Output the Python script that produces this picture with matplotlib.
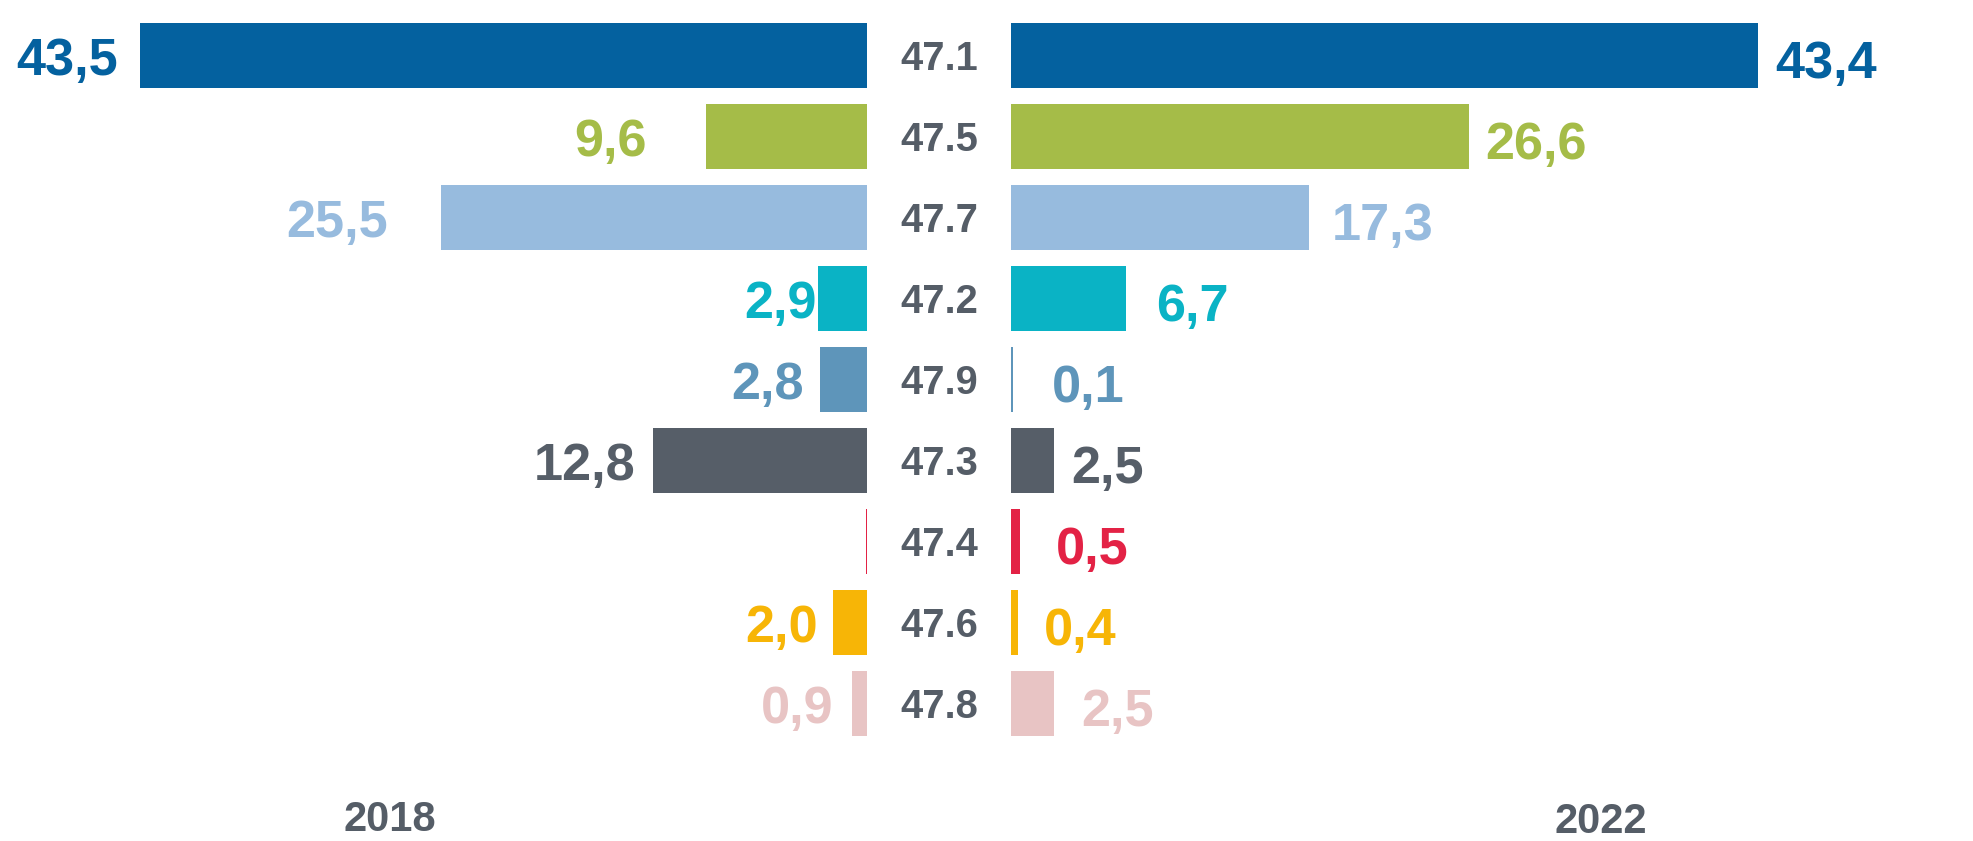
"""
Two-sided bar chart: shares by code, 2018 (left) vs 2022 (right).
"""

import matplotlib
matplotlib.use("Agg")
import matplotlib.pyplot as plt
from matplotlib.transforms import blended_transform_factory

plt.rcParams['font.family'] = ['Liberation Sans', 'DejaVu Sans']

# data
codes = ['47.1', '47.5', '47.7', '47.2', '47.9', '47.3', '47.4', '47.6', '47.8']
values_2018 = [43.5, 9.6, 25.5, 2.9, 2.8, 12.8, 0.05, 2.0, 0.9]
values_2022 = [43.4, 26.6, 17.3, 6.7, 0.1, 2.5, 0.5, 0.4, 2.5]
labels_2018 = ['43,5', '9,6', '25,5', '2,9', '2,8', '12,8', '', '2,0', '0,9']
labels_2022 = ['43,4', '26,6', '17,3', '6,7', '0,1', '2,5', '0,5', '0,4', '2,5']
years = ['2018', '2022']

# styling
colors = ['#04619F', '#A5BC48', '#97BBDE', '#0AB3C5', '#5E95BA',
          '#565E68', '#E32245', '#F7B506', '#E8C4C4']
gray = '#555D67'
# gap between bar end and its label, in pixels (as in the original layout)
pad_2018 = [22, 60, 53, 2, 16, 17, 0, 16, 18]
pad_2022 = [17, 16, 23, 30, 39, 17, 36, 26, 27]

W, H = 1974, 841
fig = plt.figure(figsize=(W / 100, H / 100), dpi=100)

axL = fig.add_axes([0, 0, 866.8 / W, 1])
axR = fig.add_axes([1011 / W, 0, 963 / W, 1])

ypos = list(range(len(codes)))

axL.barh(ypos, values_2018, height=0.8, color=colors)
axR.barh(ypos, values_2022, height=0.8, color=colors)

axL.set_xlim(866.8 / 16.71, 0)
axR.set_xlim(0, 963 / 17.21)
for ax in (axL, axR):
    ax.set_ylim((H - 55.3) / 81, -55.3 / 81)
    ax.axis('off')

# value labels
for y, v, lab, pad, c in zip(ypos, values_2018, labels_2018, pad_2018, colors):
    if lab:
        axL.annotate(lab, (v, y), xytext=(-pad, -1), textcoords='offset pixels',
                     ha='right', va='center_baseline', fontsize=37.6,
                     fontweight='bold', color=c)

for y, v, lab, pad, c in zip(ypos, values_2022, labels_2022, pad_2022, colors):
    axR.annotate(lab, (v, y), xytext=(pad, -4), textcoords='offset pixels',
                 ha='left', va='center_baseline', fontsize=37.6,
                 fontweight='bold', color=c)

# category codes between the two halves
trans = blended_transform_factory(fig.transFigure, axR.transData)
for y, code in zip(ypos, codes):
    fig.text(939 / W, y, code, transform=trans, ha='center',
             va='center_baseline', fontsize=28.7, fontweight='bold', color=gray)

# year captions
fig.text(390 / W, 1 - 820 / H, years[0], ha='center', va='center',
         fontsize=30, fontweight='bold', color=gray)
fig.text(1601 / W, 1 - 822 / H, years[1], ha='center', va='center',
         fontsize=30, fontweight='bold', color=gray)

fig.savefig('out.png', dpi=100, facecolor='white')
